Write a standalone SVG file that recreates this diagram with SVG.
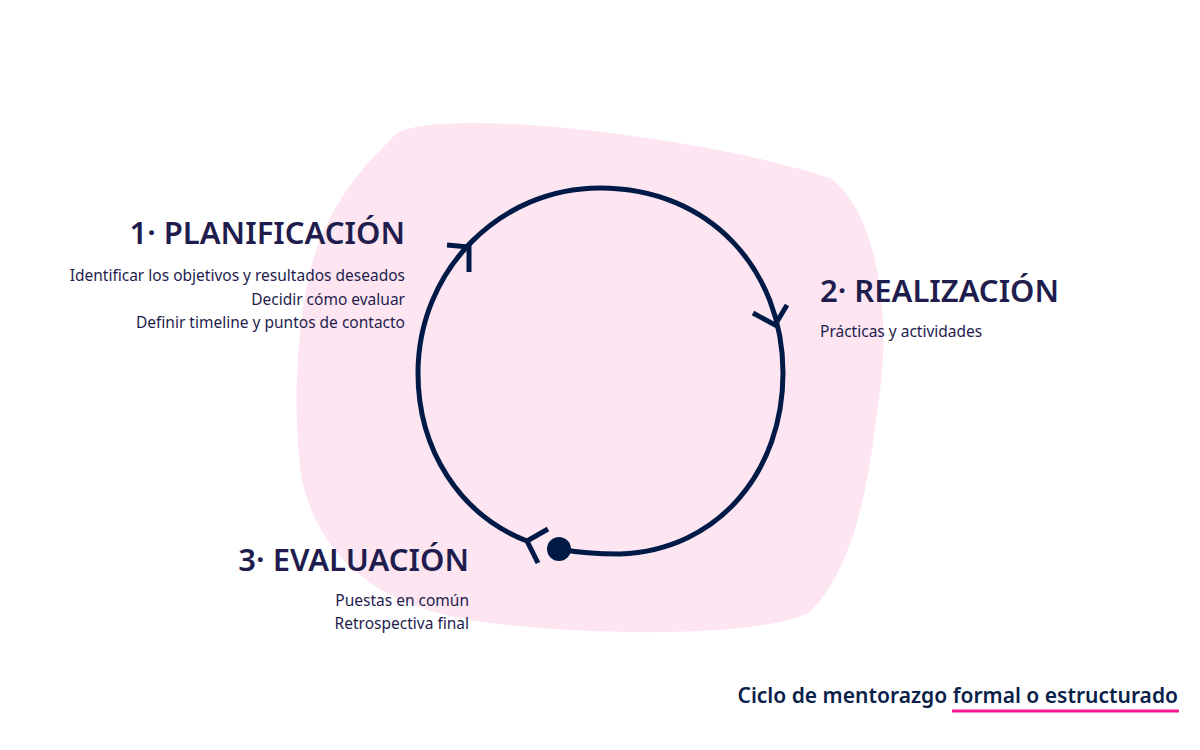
<svg xmlns="http://www.w3.org/2000/svg" width="1200" height="750" viewBox="0 0 1200 750">
<style>
.t{font-family:"Noto Sans","Liberation Sans",sans-serif;font-size:31px;fill:#1f1d4d;font-weight:600}
.b{font-family:"Noto Sans","Liberation Sans",sans-serif;font-size:15.5px;fill:#1f1d4d}
.c{fill:none;stroke:#001a47;stroke-width:5}
</style>
<rect width="1200" height="750" fill="#fff"/>
<path d="M395,135 C430,105 700,135 830,178 C880,215 890,320 880,390 C870,470 860,560 810,612 C760,640 560,635 470,620 C380,605 320,560 302,480 C292,420 295,300 320,240 C340,190 370,160 395,135 Z" fill="#fde6f2"/>
<g id="connectors">
<path class="c" d="M559,549 C580,553 600,554 620,554 C720,550 783,470 783,373 C783,270 710,188 600,188 C500,188 418,270 418,373 C418,450 460,515 527,541"/>
<polyline class="c" points="447,245 469,247 469,272"/>
<polyline class="c" points="753,313 775,325 787,305"/>
<polyline class="c" points="548,529 527,541 538,563"/>
<circle cx="559" cy="549" r="12" fill="#001a47"/>
</g>
<g id="n1">
<text class="t" x="405" y="244" text-anchor="end">1· PLANIFICACIÓN</text>
<text class="b" x="405" y="281" text-anchor="end">Identificar los objetivos y resultados deseados</text>
<text class="b" x="405" y="305" text-anchor="end">Decidir cómo evaluar</text>
<text class="b" x="405" y="328" text-anchor="end">Definir timeline y puntos de contacto</text>
</g>
<g id="n2">
<text class="t" x="820" y="302">2· REALIZACIÓN</text>
<text class="b" x="820" y="337">Prácticas y actividades</text>
</g>
<g id="n3">
<text class="t" x="469" y="571" text-anchor="end">3· EVALUACIÓN</text>
<text class="b" x="469" y="606" text-anchor="end">Puestas en común</text>
<text class="b" x="469" y="629" text-anchor="end">Retrospectiva final</text>
</g>
<g id="caption">
<text x="1178" y="703" text-anchor="end" style="font-family:'Noto Sans','Liberation Sans',sans-serif;font-size:21px;font-weight:600;fill:#0a1f4a">Ciclo de mentorazgo formal o estructurado</text>
<line x1="952" y1="711" x2="1179" y2="711" stroke="#ff1493" stroke-width="3"/>
</g>
</svg>
